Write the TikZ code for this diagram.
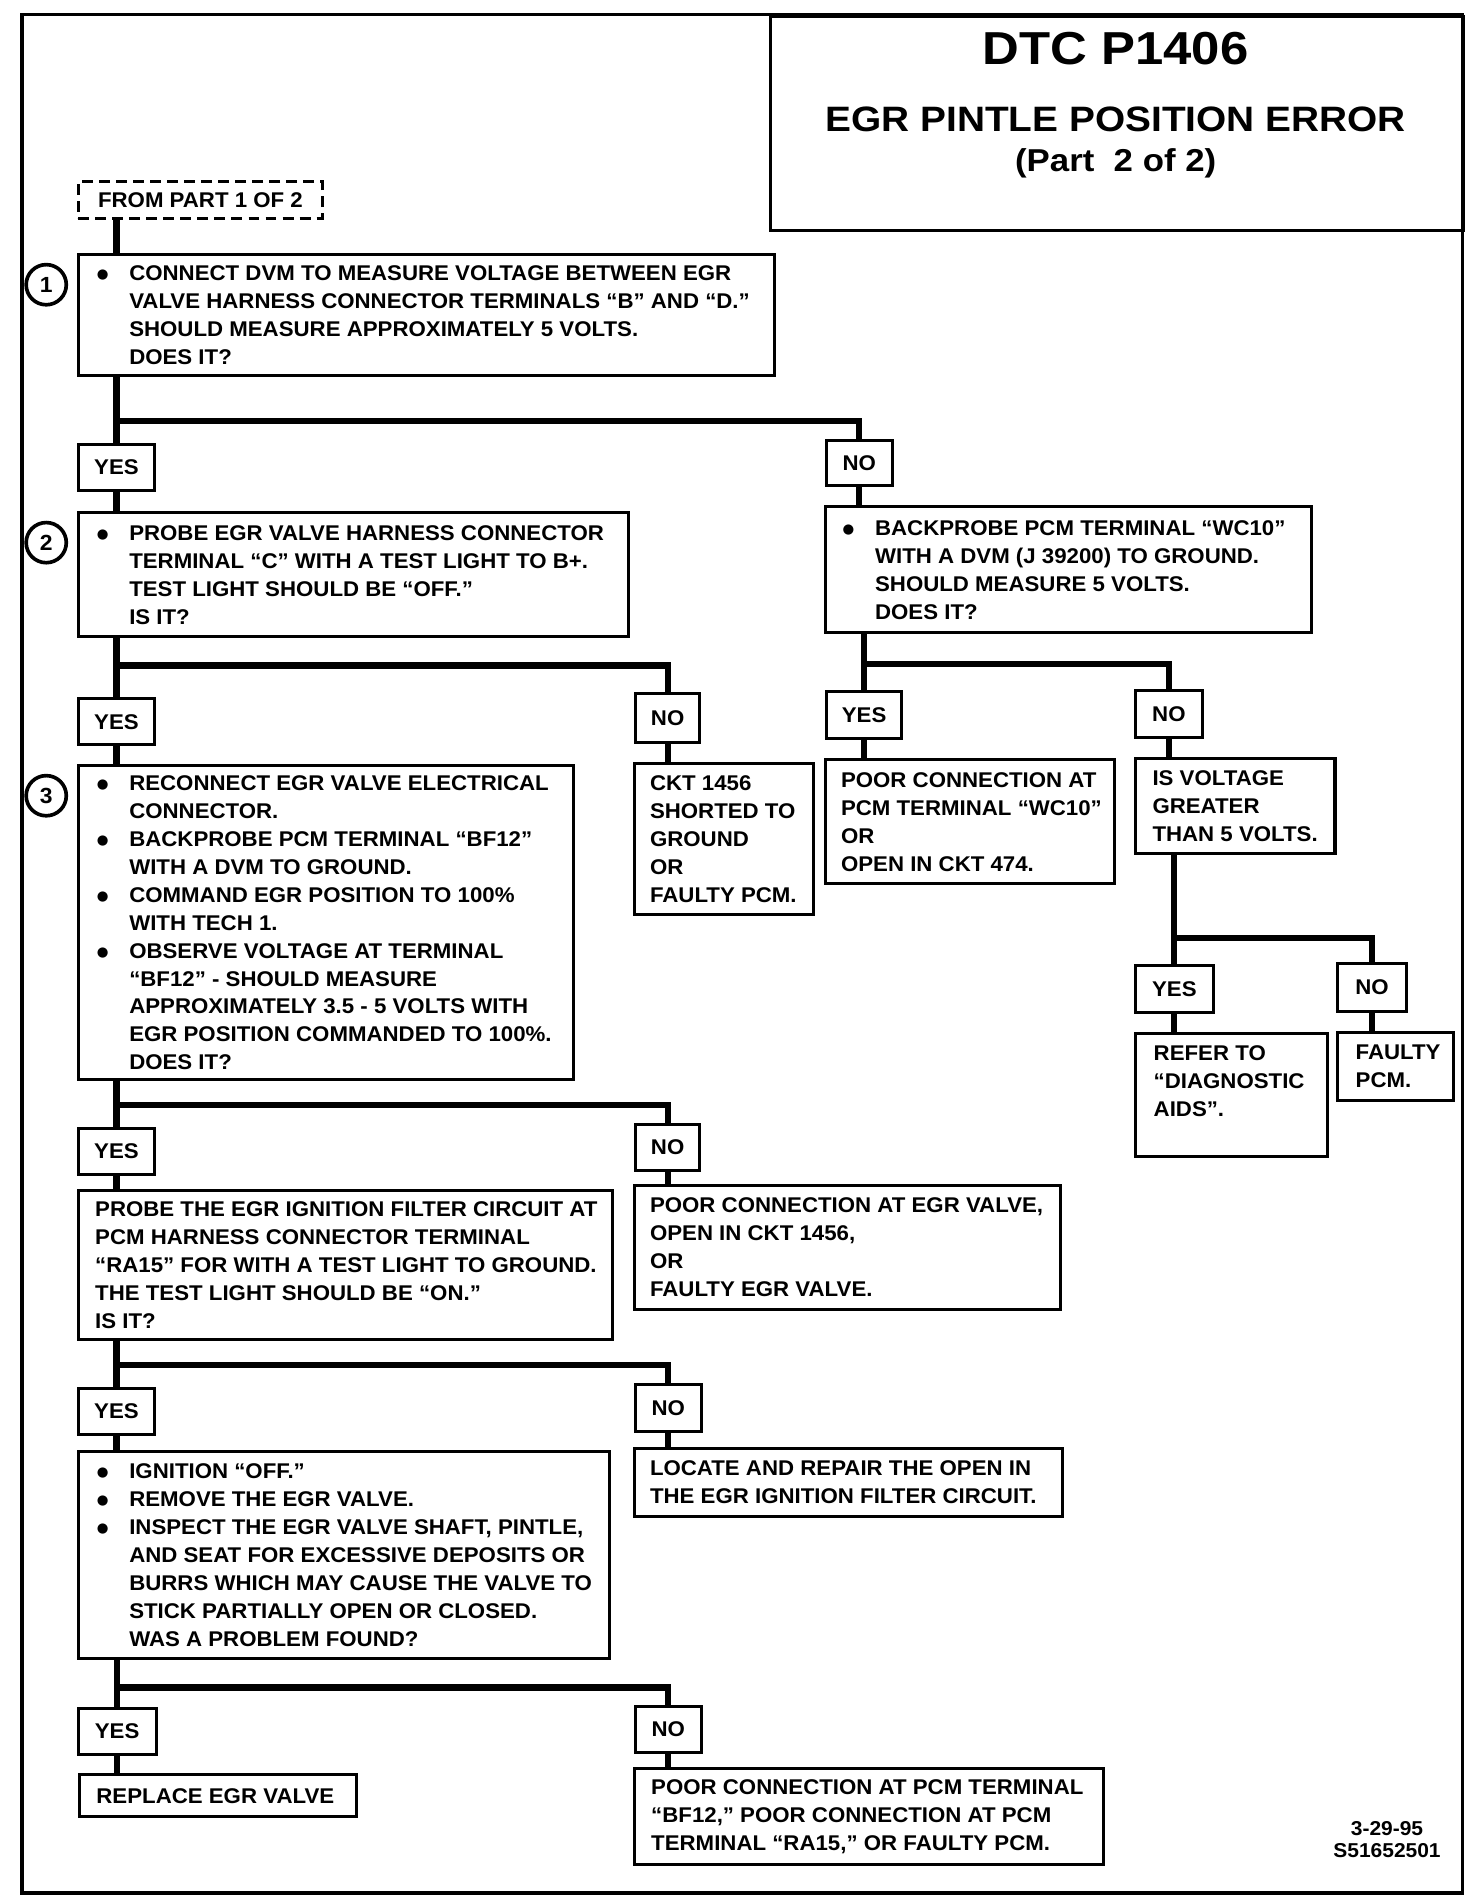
\documentclass[tikz,border=0pt]{standalone}
\usepackage{fontspec}
\setmainfont{Liberation Sans}[FakeStretch=1.045]
\newfontfamily\titlefont{Liberation Sans}[FakeStretch=1.1]
\newfontfamily\dejavu{DejaVu Sans}
\newcommand\bt[3]{\parbox{#1}{\leftskip=#2\relax\rightskip=-60pt plus 1fil\relax\parindent=0pt\parfillskip=0pt plus 1fil\relax\rule{0pt}{12.5pt}#3}}
\newcommand\bul{\leavevmode\llap{\raisebox{1.5pt}{\dejavu\fontsize{11}{11}\selectfont ●}\hspace{17pt}}}
\begin{document}
\begin{tikzpicture}[x=1pt,y=-1pt,
  every node/.style={font=\fontsize{17.5}{23}\selectfont\bfseries},
  box/.style={draw, line width=2.5pt, inner sep=0pt, anchor=north west},
  yn/.style={box},
  conn/.style={line width=5pt, line cap=rect},
  num/.style={circle, draw, line width=3pt, minimum size=33pt, inner sep=0pt, font=\fontsize{18}{18}\selectfont\bfseries}]
\useasboundingbox (0,0) rectangle (1210,1560);
\draw[line width=3pt] (18,12) rectangle (1202,1556);

% title
\node[box, minimum width=570pt, minimum height=176pt] (title) at (632,12) {};
\node[anchor=base, font=\titlefont\fontsize{38}{38}\selectfont\bfseries] (t1) at (917,53) {DTC P1406};
\node[anchor=base, font=\titlefont\fontsize{29}{29}\selectfont\bfseries] (t2) at (917,108) {EGR PINTLE POSITION ERROR};
\node[anchor=base, font=\titlefont\fontsize{26}{26}\selectfont\bfseries] (t3) at (917,141) {(Part\ \ 2 of 2)};

\node[box, dashed, dash pattern=on 9pt off 5pt, minimum width=201pt, minimum height=30pt] (from) at (63,148) {FROM PART 1 OF 2};

% step 1
\node[num] (c1) at (38,234) {1};
\node[box, minimum width=572pt, minimum height=99pt] (b1) at (63,208) {\bt{572pt}{42pt}{\bul CONNECT DVM TO MEASURE VOLTAGE BETWEEN EGR\\
VALVE HARNESS CONNECTOR TERMINALS “B” AND “D.”\\
SHOULD MEASURE APPROXIMATELY 5 VOLTS.\\
DOES IT?}};
\node[yn, minimum width=63pt, minimum height=38pt] (y1) at (63,364) {YES};
\node[yn, minimum width=54pt, minimum height=37pt] (n1) at (678,361) {NO};

% step 2
\node[num] (c2) at (38,446) {2};
\node[box, minimum width=452pt, minimum height=102pt] (b2) at (63,420) {\bt{452pt}{42pt}{\bul PROBE EGR VALVE HARNESS CONNECTOR\\
TERMINAL “C” WITH A TEST LIGHT TO B+.\\
TEST LIGHT SHOULD BE “OFF.”\\
IS IT?}};
\node[box, minimum width=400pt, minimum height=104pt] (r1) at (677,415) {\bt{400pt}{41pt}{\bul BACKPROBE PCM TERMINAL “WC10”\\
WITH A DVM (J 39200) TO GROUND.\\
SHOULD MEASURE 5 VOLTS.\\
DOES IT?}};
\node[yn, minimum width=63pt, minimum height=38pt] (y2) at (63,573) {YES};
\node[yn, minimum width=53pt, minimum height=40pt] (n2) at (521,569) {NO};
\node[yn, minimum width=62pt, minimum height=39pt] (y3) at (678,567) {YES};
\node[yn, minimum width=55pt, minimum height=39pt] (n3) at (932,566) {NO};

% step 3
\node[num] (c3) at (38,654) {3};
\node[box, minimum width=407pt, minimum height=258pt] (b3) at (63,628) {\bt{407pt}{42pt}{\bul RECONNECT EGR VALVE ELECTRICAL\\
CONNECTOR.\\
\bul BACKPROBE PCM TERMINAL “BF12”\\
WITH A DVM TO GROUND.\\
\bul COMMAND EGR POSITION TO 100\%\\
WITH TECH 1.\\
\bul OBSERVE VOLTAGE AT TERMINAL\\
“BF12” - SHOULD MEASURE\\
APPROXIMATELY 3.5 - 5 VOLTS WITH\\
EGR POSITION COMMANDED TO 100\%.\\
DOES IT?}};
\node[box, minimum width=147pt, minimum height=124pt] (ckt) at (520,626) {\bt{147pt}{13pt}{CKT 1456\\SHORTED TO\\GROUND\\OR\\FAULTY PCM.}};
\node[box, minimum width=238pt, minimum height=102pt] (wc) at (677,623) {\bt{238pt}{13pt}{POOR CONNECTION AT\\PCM TERMINAL “WC10”\\OR\\OPEN IN CKT 474.}};
\node[box, minimum width=164pt, minimum height=78pt] (isv) at (932,622) {\bt{164pt}{14pt}{IS VOLTAGE\\GREATER\\THAN 5 VOLTS.}};
\node[yn, minimum width=64pt, minimum height=39pt] (y4) at (932,792) {YES};
\node[yn, minimum width=57pt, minimum height=39pt] (n4) at (1098,791) {NO};
\node[box, minimum width=158pt, minimum height=101pt] (ref) at (932,848) {\bt{158pt}{15pt}{REFER TO\\“DIAGNOSTIC\\AIDS”.\\~}};
\node[box, minimum width=95pt, minimum height=56pt] (fpcm) at (1098,847) {\bt{95pt}{15pt}{FAULTY\\PCM.}};

% step 4
\node[yn, minimum width=63pt, minimum height=38pt] (y5) at (63,926) {YES};
\node[yn, minimum width=53pt, minimum height=38pt] (n5) at (521,923) {NO};
\node[box, minimum width=439pt, minimum height=123pt] (pr) at (63,977) {\bt{439pt}{14pt}{PROBE THE EGR IGNITION FILTER CIRCUIT AT\\
PCM HARNESS CONNECTOR TERMINAL\\
“RA15” FOR WITH A TEST LIGHT TO GROUND.\\
THE TEST LIGHT SHOULD BE “ON.”\\
IS IT?}};
\node[box, minimum width=350pt, minimum height=102pt] (pe) at (520,973) {\bt{350pt}{13pt}{POOR CONNECTION AT EGR VALVE,\\OPEN IN CKT 1456,\\OR\\FAULTY EGR VALVE.}};

% step 5
\node[yn, minimum width=63pt, minimum height=38pt] (y6) at (63,1140) {YES};
\node[yn, minimum width=54pt, minimum height=38pt] (n6) at (521,1137) {NO};
\node[box, minimum width=437pt, minimum height=170pt] (ig) at (63,1192) {\bt{437pt}{42pt}{\bul IGNITION “OFF.”\\
\bul REMOVE THE EGR VALVE.\\
\bul INSPECT THE EGR VALVE SHAFT, PINTLE,\\
AND SEAT FOR EXCESSIVE DEPOSITS OR\\
BURRS WHICH MAY CAUSE THE VALVE TO\\
STICK PARTIALLY OPEN OR CLOSED.\\
WAS A PROBLEM FOUND?}};
\node[box, minimum width=352pt, minimum height=56pt] (lo) at (520,1189) {\bt{352pt}{13pt}{LOCATE AND REPAIR THE OPEN IN\\THE EGR IGNITION FILTER CIRCUIT.}};

% step 6
\node[yn, minimum width=64pt, minimum height=38pt] (y7) at (63,1403) {YES};
\node[yn, minimum width=54pt, minimum height=38pt] (n7) at (521,1401) {NO};
\node[box, minimum width=228pt, minimum height=35pt] (rep) at (64,1457) {\bt{228pt}{14pt}{REPLACE EGR VALVE}};
\node[box, minimum width=386pt, minimum height=79pt] (pp) at (520,1452) {\bt{386pt}{14pt}{POOR CONNECTION AT PCM TERMINAL\\“BF12,” POOR CONNECTION AT PCM\\TERMINAL “RA15,” OR FAULTY PCM.}};

\node[align=center, font=\fontsize{16.5}{18}\selectfont\bfseries] (id) at (1140,1512) {3-29-95\\S51652501};

% junctions
\coordinate (j1) at (y1.north |- 0,346);
\coordinate (j2) at (y2.north |- 0,547);
\coordinate (j3) at (y3.north |- 0,546);
\coordinate (j4) at (y4.north |- 0,771);
\coordinate (j5) at (y5.north |- 0,908);
\coordinate (j6) at (y6.north |- 0,1122);
\coordinate (j7) at (y7.north |- 0,1387);

% connectors
\draw[conn] (from.south -| y1.north) -- (b1.north -| y1.north);
\draw[conn] (b1.south -| y1.north) -- (y1.north);
\draw[conn] (j1) -| (n1.north);
\draw[conn] (y1.south) -- (b2.north -| y1.south);
\draw[conn] (n1.south) -- (r1.north -| n1.south);

\draw[conn] (b2.south -| y2.north) -- (y2.north);
\draw[conn] (j2) -| (n2.north);
\draw[conn] (y2.south) -- (b3.north -| y2.south);
\draw[conn] (n2.south) -- (ckt.north -| n2.south);

\draw[conn] (r1.south -| y3.north) -- (y3.north);
\draw[conn] (j3) -| (n3.north);
\draw[conn] (y3.south) -- (wc.north -| y3.south);
\draw[conn] (n3.south) -- (isv.north -| n3.south);

\draw[conn] (isv.south -| y4.north) -- (y4.north);
\draw[conn] (j4) -| (n4.north);
\draw[conn] (y4.south) -- (ref.north -| y4.south);
\draw[conn] (n4.south) -- (fpcm.north -| n4.south);

\draw[conn] (b3.south -| y5.north) -- (y5.north);
\draw[conn] (j5) -| (n5.north);
\draw[conn] (y5.south) -- (pr.north -| y5.south);
\draw[conn] (n5.south) -- (pe.north -| n5.south);

\draw[conn] (pr.south -| y6.north) -- (y6.north);
\draw[conn] (j6) -| (n6.north);
\draw[conn] (y6.south) -- (ig.north -| y6.south);
\draw[conn] (n6.south) -- (lo.north -| n6.south);

\draw[conn] (ig.south -| y7.north) -- (y7.north);
\draw[conn] (j7) -| (n7.north);
\draw[conn] (y7.south) -- (rep.north -| y7.south);
\draw[conn] (n7.south) -- (pp.north -| n7.south);
\end{tikzpicture}
\end{document}
